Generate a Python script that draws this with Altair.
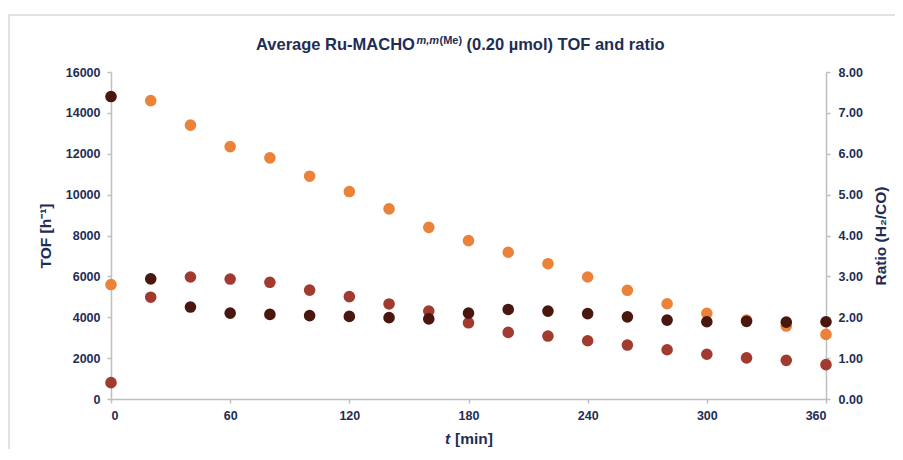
import altair as alt
import pandas as pd

t_min = [0, 20, 40, 60, 80, 100, 120, 140, 160, 180, 200, 220, 240, 260, 280, 300, 320, 340, 360]
tof_a = [5600, 14600, 13400, 12350, 11800, 10900, 10150, 9300, 8400, 7750, 7180, 6620, 5970, 5320, 4660, 4190, 3860, 3570, 3160]
tof_b = [800, 4980, 5970, 5870, 5710, 5330, 5010, 4650, 4300, 3730, 3260, 3080, 2850, 2640, 2410, 2190, 2010, 1890, 1680]
ratio = [7.40, 2.94, 2.25, 2.10, 2.07, 2.04, 2.02, 1.99, 1.96, 2.10, 2.19, 2.15, 2.09, 2.01, 1.93, 1.89, 1.90, 1.88, 1.89]

x_ticks = [0, 60, 120, 180, 240, 300, 360]
left_ticks = [0, 2000, 4000, 6000, 8000, 10000, 12000, 14000, 16000]
right_ticks = [0, 1, 2, 3, 4, 5, 6, 7, 8]

C_ORANGE = "#EA8339"
C_RED = "#A23B2F"
C_DARK = "#4A1610"
TXT = "#1F2D55"
AX = "#BFBFBF"
FONT = "Liberation Sans"

df_tof = pd.DataFrame({
    "t": t_min * 2,
    "tof": tof_a + tof_b,
    "series": ["a"] * len(t_min) + ["b"] * len(t_min),
})
df_ratio = pd.DataFrame({"t": t_min, "ratio": ratio})
one = pd.DataFrame({"k": [0]})

x_enc = alt.X("t:Q", scale=alt.Scale(domain=[0, 360], nice=False),
              axis=alt.Axis(values=x_ticks, title=None, labelPadding=6, tickSize=4, grid=False))

tof_layer = alt.Chart(df_tof).mark_circle(size=135, opacity=1).encode(
    x=x_enc,
    y=alt.Y("tof:Q", scale=alt.Scale(domain=[0, 16000], nice=False),
            axis=alt.Axis(values=left_ticks, format="d", title="TOF [h⁻¹]",
                          orient="left", labelPadding=7, tickSize=4, grid=False,
                          titlePadding=12, titleFontSize=15.5)),
    color=alt.Color("series:N", scale=alt.Scale(domain=["a", "b"], range=[C_ORANGE, C_RED]), legend=None),
    order=alt.Order("series:N"),
)

ratio_layer = alt.Chart(df_ratio).mark_circle(size=135, opacity=1, color=C_DARK).encode(
    x=x_enc,
    y=alt.Y("ratio:Q", scale=alt.Scale(domain=[0, 8], nice=False),
            axis=alt.Axis(values=right_ticks, format=".2f", title="Ratio (H₂/CO)",
                          orient="right", labelPadding=8, tickSize=4, grid=False,
                          titlePadding=26, titleAngle=270, titleFontSize=15.5)),
)

def txt(s, x, y, size, italic=False):
    return alt.Chart(one).mark_text(
        text=s, align="left", baseline="alphabetic", font=FONT, fontWeight="bold",
        fontStyle="italic" if italic else "normal", fontSize=size, color=TXT,
    ).encode(x=alt.value(x), y=alt.value(y))

title_parts = [
    txt("Average Ru-MACHO", 145, -22, 16.5),
    txt("m,m", 305.5, -28, 11, italic=True),
    txt("(Me)", 328.5, -28, 11),
    txt("(0.20 µmol) TOF and ratio", 355.5, -22, 16.5),
    txt("t", 334, 372, 15.5, italic=True),
    txt("[min]", 344, 372, 15.5),
]

border_left = alt.Chart(one).mark_rule(color="#E2E2E2", strokeWidth=2).encode(
    x=alt.value(-102), y=alt.value(-57), y2=alt.value(380))
border_top = alt.Chart(one).mark_rule(color="#E2E2E2", strokeWidth=2).encode(
    x=alt.value(-103), x2=alt.value(790), y=alt.value(-57))

chart = alt.layer(
    border_left, border_top, tof_layer, ratio_layer, *title_parts
).resolve_scale(y="independent").properties(
    width=715, height=327,
    background="white",
    autosize=alt.AutoSizeParams(type="none"),
    padding={"left": 103, "top": 64, "right": 69, "bottom": 50},
).configure_view(stroke=None).configure_axis(
    grid=False, domainColor=AX, tickColor=AX, domainWidth=1.5, tickWidth=1.5,
    labelFont=FONT, labelFontWeight="bold", labelFontSize=12.5, labelColor=TXT,
    titleFont=FONT, titleFontWeight="bold", titleColor=TXT,
)

chart.save("out.html", embed_options={"renderer": "svg", "actions": False})
